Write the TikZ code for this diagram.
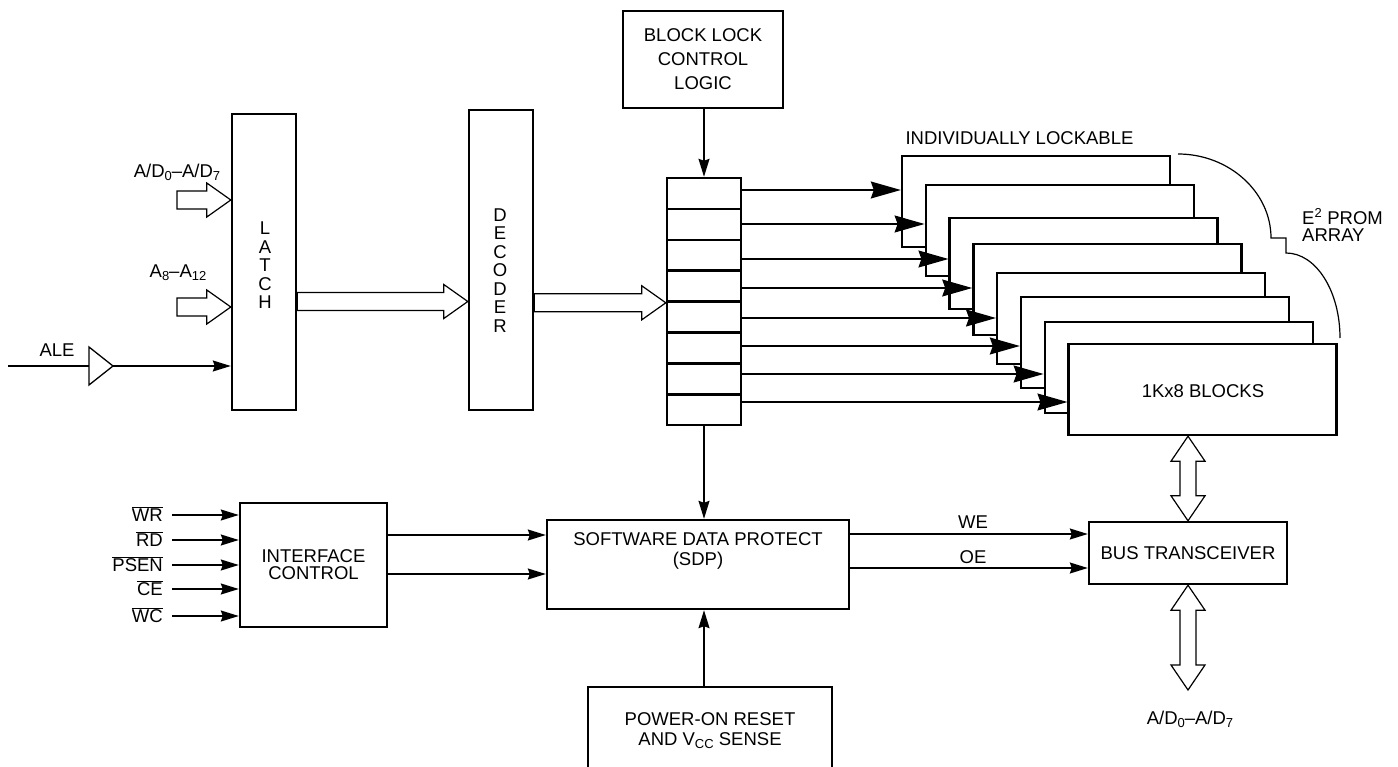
\documentclass[tikz,border=0pt]{standalone}
\usepackage{fontspec}
\setmainfont{Liberation Sans}
\usetikzlibrary{positioning,calc,arrows.meta}

\newcommand{\lowtext}[1]{\raisebox{-3pt}{\fontsize{13}{13}\selectfont #1}}
\newcommand{\barsig}[1]{$\overline{\hbox{#1}}$}
% hollow bus arrow, left to right
\newcommand{\hbus}[2]{\draw[bus] let \p1=(#1), \p2=(#2) in
  (\x1,\y1+9pt) -- (\x2-24pt,\y1+9pt) -- (\x2-24pt,\y1+17pt) -- (\x2,\y1)
  -- (\x2-24pt,\y1-17pt) -- (\x2-24pt,\y1-9pt) -- (\x1,\y1-9pt) -- cycle;}
% hollow bus arrow, both ways, vertical
\newcommand{\vbus}[2]{\draw[bus] let \p1=(#1), \p2=(#2) in
  (\x1,\y1) -- (\x1+17pt,\y1-25pt) -- (\x1+8pt,\y1-25pt) -- (\x1+8pt,\y2+25pt)
  -- (\x1+17pt,\y2+25pt) -- (\x1,\y2) -- (\x1-17pt,\y2+25pt) -- (\x1-8pt,\y2+25pt)
  -- (\x1-8pt,\y1-25pt) -- (\x1-17pt,\y1-25pt) -- cycle;}

\tikzset{
  box/.style = {draw, line width=2.4pt, fill=white, inner sep=0pt, align=center},
  cell/.style = {draw, line width=2.4pt, minimum width=74pt, minimum height=30.9pt, inner sep=0pt},
  blk/.style = {draw, line width=2.4pt, fill=white, minimum width=268pt, minimum height=91pt, inner sep=0pt},
  vtext/.style = {align=center, inner sep=0pt, font=\fontsize{18.5}{18.5}\selectfont},
  wire/.style = {line width=1.3pt},
  arr/.style = {wire, -{Stealth[length=18pt, width=11pt, inset=2pt]}},
  bigarr/.style = {wire, -{Stealth[length=30pt, width=17pt, inset=3pt]}},
  bus/.style = {line width=1.2pt, fill=white}
}

\begin{document}
\begin{tikzpicture}[x=1pt, y=-1pt, font=\fontsize{18.5}{17}\selectfont]
\clip (0,0) rectangle (1398,767);

% latch and decoder
\node[box, minimum width=64pt, minimum height=296pt] (latch) at (264,262) {};
\node[vtext] (latchtxt) at (265,265.5) {L\\A\\T\\C\\H};
\node[box, minimum width=64pt, minimum height=300pt] (decoder) at (501,260) {};
\node[vtext] (dectxt) at (500,270.5) {D\\E\\C\\O\\D\\E\\R};

\coordinate (adin) at (177,200);
\coordinate (ain) at (177,307);
\coordinate (busy) at (0,301.5);
\node (adlbl) at (177,172) {A/D\lowtext{0}–A/D\lowtext{7}};
\node (albl) at (178,273) {A\lowtext{8}–A\lowtext{12}};
\hbus{adin}{latch.west |- adin}
\hbus{ain}{latch.west |- ain}
\hbus{latch.east |- busy}{decoder.west |- busy}

% ALE buffer
\coordinate (alein) at (8,366);
\coordinate (bufin) at (89,366);
\coordinate (bufout) at (113,366);
\node (alelbl) at (57,350) {ALE};
\draw[wire] (alein) -- (bufin);
\draw[wire] (89,347) -- (bufout) -- (89,385) -- cycle;
\draw[arr] (bufout) -- (latch.west |- bufout);

% block lock and register stack
\node[box, minimum width=160pt, minimum height=97pt] (lock) at (703,59.5) {BLOCK LOCK\\[7pt]CONTROL\\[7pt]LOGIC};
\foreach \i in {1,...,8}
  \node[cell] (c\i) at (704,{162.55+30.9*\i}) {};
\draw[arr] (lock.south -| c1.north) -- (c1.north);
\hbus{decoder.east |- c4.south west}{c4.south west}

% stacked 1Kx8 blocks
\foreach \i/\t in {1/156,2/185,3/218,4/244,5/273,6/297,7/322,8/344}
  \node[blk] (blk\i) at ({1036+23.8*(\i-1)},{\t+45.5}) {};
\node (blktxt) at (1203,391) {1Kx8 BLOCKS};
\foreach \i/\a in {1/190,2/224,3/259,4/288,5/318,6/346,7/374,8/402}
  \draw[bigarr] (c\i.east |- 0,\a) -- (blk\i.west |- 0,\a);
\node[anchor=west] (lockable) at (902,138) {INDIVIDUALLY LOCKABLE};
\draw[line width=1.2pt] (1178,154) .. controls (1229,154) and (1271,192) .. (1271,238)
  -- (1286,238) -- (1286,253) .. controls (1316,253) and (1340,291) .. (1340,338);
\node[anchor=west, align=left, inner sep=0pt] (eprom) at (1302,225) {E\textsuperscript{2} PROM\\ARRAY};

% interface control and SDP
\node[box, minimum width=147pt, minimum height=124pt] (iface) at (313.5,565) {INTERFACE\\CONTROL};
\foreach \y/\s in {515/WR,540/RD,565/PSEN,589/CE,616/WC} {
  \coordinate (in\s) at (172,\y);
  \draw[arr] (in\s) -- (iface.west |- in\s);
  \node[anchor=base east, inner sep=0pt] (l\s) at (163,{\y+6.5}) {\barsig{\s}};
}
\node[box, minimum width=302pt, minimum height=89pt] (sdp) at (698,564.5) {};
\node[align=center] (sdptxt) at (698,551) {SOFTWARE DATA PROTECT\\[3pt](SDP)};
\draw[arr] (iface.east |- 0,535) -- (sdp.west |- 0,535);
\draw[arr] (iface.east |- 0,574) -- (sdp.west |- 0,574);
\draw[arr] (c8.south) -- (sdp.north -| c8.south);

% power-on reset
\node[box, minimum width=244pt, minimum height=88pt] (power) at (710,731) {POWER-ON RESET\\[3pt]AND V\lowtext{CC} SENSE};
\draw[arr] (power.north -| c8.south) -- (sdp.south -| c8.south);

% bus transceiver
\node[box, minimum width=198pt, minimum height=62pt] (bus) at (1188,553) {BUS TRANSCEIVER};
\draw[arr] (sdp.east |- 0,534) -- (bus.west |- 0,534);
\draw[arr] (sdp.east |- 0,568) -- (bus.west |- 0,568);
\node (we) at (973,522.5) {WE};
\node (oe) at (973,557.5) {OE};
\vbus{blk8.south -| bus.north}{bus.north}
\coordinate (adout) at (1190,690);
\vbus{bus.south}{adout}
\node (adoutlbl) at (1190,719) {A/D\lowtext{0}–A/D\lowtext{7}};
\end{tikzpicture}
\end{document}
